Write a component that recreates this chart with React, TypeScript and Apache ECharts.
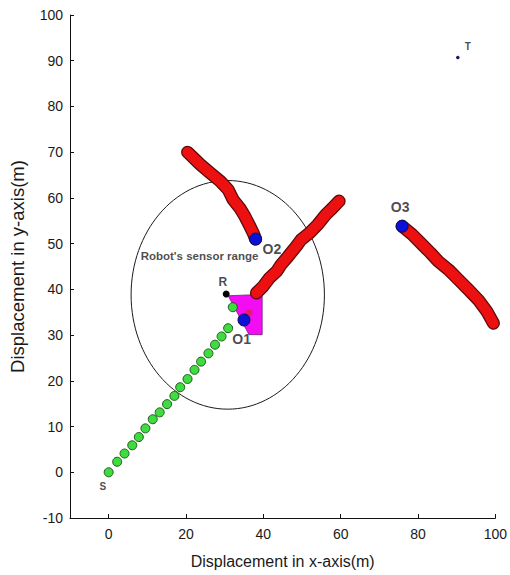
import React, { useEffect, useRef } from 'react';
import * as echarts from 'echarts';

// ---- data ----
const xTicks = [0, 20, 40, 60, 80, 100];

// green robot path from S towards the obstacle O1
const robotPath: number[][] = [
  [0, 0], [2.2, 2.3], [4.1, 4.1], [6.1, 5.9], [7.8, 7.7], [9.5, 9.6],
  [11.4, 11.6], [13.2, 13.1], [15.1, 14.9], [17.0, 16.7], [18.5, 18.6],
  [20.4, 20.4], [22.2, 22.4], [23.9, 24.2], [25.8, 26.0], [27.5, 27.9],
  [29.2, 29.7], [30.9, 31.5], [32.1, 36.1],
];

// red trails of the moving obstacles
const obstacle1Trail: number[][] = [
  [38.2, 39.2], [39.9, 40.6], [41.6, 42.5], [43.4, 43.9], [44.6, 45.4],
  [46.4, 47.2], [48.5, 49.4], [49.8, 50.9], [51.9, 52.3], [54.1, 54.2],
  [56.2, 56.4], [57.9, 57.8], [59.6, 59.3],
];
const obstacle2Trail: number[][] = [
  [20.4, 70.0], [23.7, 67.3], [26.2, 65.5], [28.8, 63.7], [30.9, 61.8],
  [32.2, 59.6], [33.9, 57.8], [35.2, 56.0], [36.3, 54.2], [37.4, 52.3],
  [38.0, 51.0],
];
const obstacle3Trail: number[][] = [
  [75.9, 53.8], [78.5, 52.0], [81.1, 49.8], [83.2, 48.0], [85.3, 46.1],
  [87.9, 44.3], [90.5, 42.1], [93.1, 39.9], [95.6, 37.7], [97.8, 35.2],
  [99.5, 32.6],
];

// current obstacle positions (O1, O2, O3)
const obstacles: number[][] = [[35.0, 33.3], [38.0, 51.0], [75.9, 53.8]];
const obstacle1Ghost: number[][] = [[36.3, 34.9]];

const robotPos: number[] = [30.4, 39.0];
const sensorCenter: number[] = [30.8, 38.8];
const targetPos: number[] = [90.3, 90.7];
const sensorRadius = 25;

// magenta sensing area in front of the robot
const sensorSector: number[][] = [[30.9, 38.6], [39.7, 38.9], [39.7, 30.1], [36.3, 30.1]];

const annotationTexts = ["Robot's sensor range", 'R', 'O1', 'O2', 'O3', 'T', 'S'];
const annotationAnchors: number[][] = [
  [23.5, 47.3], [29.5, 41.6], [34.4, 29.1], [42.2, 48.8], [75.4, 58.0], [92.9, 93.2], [-1.5, -3.1],
];

// ---- styles ----
const labelSize: Record<string, number> = {
  "Robot's sensor range": 11.5, R: 12, O1: 14, O2: 14, O3: 14, T: 10, S: 10,
};
const FONT = '"Liberation Sans", Arial, sans-serif';

export default function App() {
  const ref = useRef<HTMLDivElement>(null);

  useEffect(() => {
    if (!ref.current) return;
    const chart = echarts.init(ref.current, undefined, { renderer: 'svg' });

    const redLine = (data: number[][], color: string, width: number, z: number) => ({
      type: 'line',
      data,
      symbol: 'none',
      silent: true,
      z,
      lineStyle: { color, width, cap: 'round', join: 'round' },
    });

    const option: any = {
      animation: false,
      backgroundColor: '#ffffff',
      textStyle: { fontFamily: FONT },
      grid: { left: 69, right: 13, top: 15, bottom: 57, containLabel: false },
      xAxis: {
        type: 'value',
        min: -10,
        max: 100,
        interval: 10,
        name: 'Displacement in x-axis(m)',
        nameLocation: 'middle',
        nameGap: 35,
        nameTextStyle: { fontSize: 16, color: '#1a1a1a', fontFamily: FONT },
        axisLine: { onZero: false, lineStyle: { color: '#111', width: 1 } },
        axisTick: { inside: true, length: 4, customValues: xTicks, lineStyle: { color: '#111' } },
        axisLabel: { customValues: xTicks, fontSize: 14, color: '#1a1a1a', margin: 9, fontFamily: FONT },
        splitLine: { show: false },
      },
      yAxis: {
        type: 'value',
        min: -10,
        max: 100,
        interval: 10,
        name: 'Displacement in y-axis(m)',
        nameLocation: 'middle',
        nameGap: 43,
        nameTextStyle: { fontSize: 18.5, color: '#1a1a1a', fontFamily: FONT },
        axisLine: { onZero: false, lineStyle: { color: '#111', width: 1 } },
        axisTick: { inside: true, length: 4, lineStyle: { color: '#111' } },
        axisLabel: { fontSize: 14, color: '#1a1a1a', margin: 7, fontFamily: FONT },
        splitLine: { show: false },
      },
      series: [
        {
          type: 'custom',
          silent: true,
          z: 1,
          data: [[sensorCenter[0], sensorCenter[1], sensorRadius]],
          renderItem: (_p: any, api: any) => {
            const c = api.coord([api.value(0), api.value(1)]);
            const s = api.size([api.value(2), api.value(2)]);
            return {
              type: 'ellipse',
              shape: { cx: c[0], cy: c[1], rx: s[0], ry: s[1] },
              style: { fill: 'none', stroke: '#1a1a1a', lineWidth: 1 },
            };
          },
        },
        {
          type: 'custom',
          silent: true,
          z: 2,
          data: [[0]],
          renderItem: (_p: any, api: any) => ({
            type: 'polygon',
            shape: { points: sensorSector.map((pt) => api.coord(pt)) },
            style: { fill: '#f20df2', stroke: '#7a1a7a', lineWidth: 0.8 },
          }),
        },
        {
          type: 'scatter',
          silent: true,
          z: 3,
          data: robotPath,
          symbol: 'circle',
          symbolSize: 9,
          itemStyle: { color: '#3fdc3f', borderColor: '#1f5a1f', borderWidth: 1, opacity: 1 },
        },
        redLine(obstacle1Trail, '#5a0a0a', 13, 4),
        redLine(obstacle2Trail, '#5a0a0a', 13, 4),
        redLine(obstacle3Trail, '#5a0a0a', 13, 4),
        redLine(obstacle1Trail, '#ec1010', 10.5, 5),
        redLine(obstacle2Trail, '#ec1010', 10.5, 5),
        redLine(obstacle3Trail, '#ec1010', 10.5, 5),
        {
          type: 'scatter',
          silent: true,
          z: 6,
          data: obstacle1Ghost,
          symbolSize: 7,
          itemStyle: { color: '#e8204a', opacity: 0.85 },
        },
        {
          type: 'scatter',
          silent: true,
          z: 7,
          data: obstacles,
          symbolSize: 12,
          itemStyle: { color: '#0a12d6', borderColor: '#0a0a60', borderWidth: 1, opacity: 1 },
        },
        {
          type: 'scatter',
          silent: true,
          z: 7,
          data: [robotPos],
          symbolSize: 7,
          itemStyle: { color: '#000', opacity: 1 },
        },
        {
          type: 'scatter',
          silent: true,
          z: 7,
          data: [targetPos],
          symbolSize: 3.5,
          itemStyle: { color: '#1a1a5a', opacity: 1 },
        },
        {
          type: 'scatter',
          silent: true,
          z: 8,
          symbolSize: 0,
          data: annotationTexts.map((t, i) => ({
            name: t,
            value: annotationAnchors[i],
            label: { fontSize: labelSize[t] },
          })),
          label: {
            show: true,
            position: 'inside',
            formatter: '{b}',
            color: '#1a1a22',
            fontWeight: 'bold',
            fontFamily: FONT,
          },
        },
      ],
    };

    chart.setOption(option);
    return () => chart.dispose();
  }, []);

  return (
    <div
      ref={ref}
      style={{ position: 'fixed', left: 0, top: 0, width: 510, height: 575, background: '#fff' }}
    />
  );
}
